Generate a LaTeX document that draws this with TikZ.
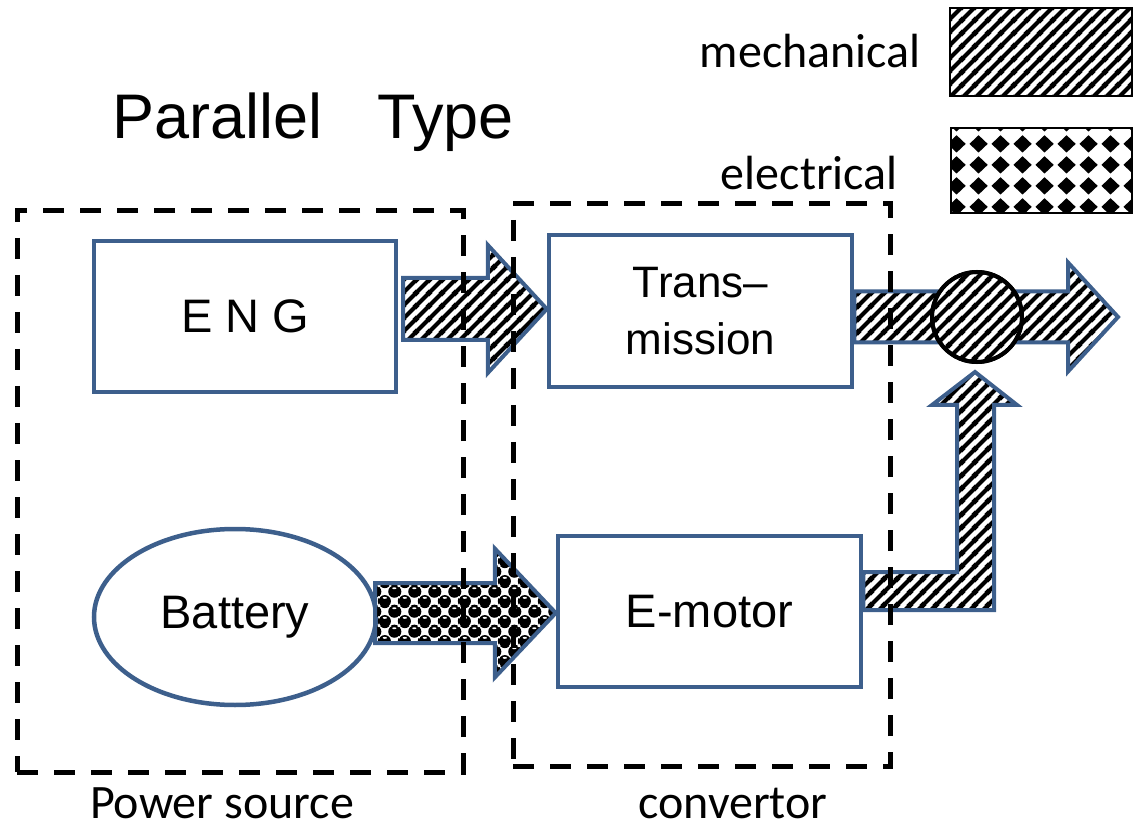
\documentclass[tikz,border=0pt]{standalone}
\usepackage{fontspec}
\setmainfont{Liberation Sans}
\newfontfamily\calib{Carlito}
\usetikzlibrary{patterns,calc,shapes.geometric}

% mechanical: diagonal stripes
\pgfdeclarepatternformonly{mech}{\pgfqpoint{0pt}{0pt}}{\pgfqpoint{13pt}{13pt}}{\pgfqpoint{13pt}{13pt}}{%
  \pgfsetlinewidth{4.3pt}%
  \pgfpathmoveto{\pgfqpoint{-3pt}{-3pt}}\pgfpathlineto{\pgfqpoint{16pt}{16pt}}%
  \pgfpathmoveto{\pgfqpoint{-16pt}{-3pt}}\pgfpathlineto{\pgfqpoint{3pt}{16pt}}%
  \pgfpathmoveto{\pgfqpoint{-3pt}{-16pt}}\pgfpathlineto{\pgfqpoint{16pt}{3pt}}%
  \pgfusepath{stroke}}

% electrical legend: diamonds
\pgfdeclarepatternformonly{diam}{\pgfqpoint{0pt}{0pt}}{\pgfqpoint{22pt}{21pt}}{\pgfqpoint{22pt}{21pt}}{%
  \pgfpathmoveto{\pgfqpoint{11pt}{1.5pt}}%
  \pgfpathlineto{\pgfqpoint{20.5pt}{10.5pt}}%
  \pgfpathlineto{\pgfqpoint{11pt}{19.5pt}}%
  \pgfpathlineto{\pgfqpoint{1.5pt}{10.5pt}}%
  \pgfpathclose\pgfusepath{fill}}

% electrical arrow: balls
\pgfdeclarepatterninherentlycolored{balls}{\pgfqpoint{0pt}{0pt}}{\pgfqpoint{20pt}{20pt}}{\pgfqpoint{20pt}{20pt}}{%
  \pgfsetfillcolor{black}%
  \pgfpathcircle{\pgfqpoint{5pt}{5pt}}{6.4pt}%
  \pgfpathcircle{\pgfqpoint{5pt}{25pt}}{6.4pt}%
  \pgfpathcircle{\pgfqpoint{25pt}{5pt}}{6.4pt}%
  \pgfpathcircle{\pgfqpoint{15pt}{15pt}}{6.4pt}%
  \pgfpathcircle{\pgfqpoint{15pt}{-5pt}}{6.4pt}%
  \pgfpathcircle{\pgfqpoint{-5pt}{15pt}}{6.4pt}%
  \pgfusepath{fill}%
  \pgfsetfillcolor{white}%
  \pgfpathellipse{\pgfqpoint{5pt}{8.5pt}}{\pgfqpoint{2.2pt}{0pt}}{\pgfqpoint{0pt}{1pt}}%
  \pgfpathellipse{\pgfqpoint{15pt}{18.5pt}}{\pgfqpoint{2.2pt}{0pt}}{\pgfqpoint{0pt}{1pt}}%
  \pgfusepath{fill}}

\definecolor{blueline}{HTML}{3D5F8C}

\newcommand\blockarrow[6]{%
  \filldraw[arrowst, pattern=#6] ($(#1)+(0,-#3)$) -- ($(#2)+(-#5,-#3)$) -- ($(#2)+(-#5,-#4)$)
    -- (#2) -- ($(#2)+(-#5,#4)$) -- ($(#2)+(-#5,#3)$) -- ($(#1)+(0,#3)$) -- cycle;}

\begin{document}
\begin{tikzpicture}[x=1pt,y=-1pt,
  box/.style={draw=blueline, line width=4.5pt, inner sep=0pt, align=center,
    font=\fontsize{47}{56}\selectfont},
  arrowst/.style={draw=blueline, line width=4pt, line join=miter},
  dbox/.style={draw=black, line width=5pt, dash pattern=on 21pt off 16pt},
  lab/.style={font=\calib\fontsize{48}{52}\selectfont, inner sep=0pt},
  legbox/.style={draw=black, line width=2.5pt, inner sep=0pt}]
\useasboundingbox (0,0) rectangle (1136,826);

% title
\node[anchor=base west, inner sep=0pt, font=\fontsize{63}{66}\selectfont] (title) at (112,139) {Parallel\hspace{55pt}Type};

% legend
\node[lab, anchor=base east] (mechlab) at (921,68) {mechanical};
\node[legbox, pattern=mech, minimum width=182, minimum height=88] (mechbox) at (1041,52) {};
\node[lab, anchor=base east] (eleclab) at (898,190) {electrical};
\node[legbox, pattern=diam, minimum width=181, minimum height=85] (elecbox) at (1041.5,170.5) {};

% components
\node[box, minimum width=302, minimum height=151] (eng) at (245,316.5) {E N G};
\node[box, minimum width=303, minimum height=152, font=\fontsize{44}{57}\selectfont] (trans) at (700.5,311) {Trans–\\mission};
\node[box, minimum width=303, minimum height=151] (emot) at (709.5,611.5) {E-motor};
\node[draw=blueline, line width=4.5pt, ellipse, inner sep=0pt, minimum width=282, minimum height=176,
  font=\fontsize{47}{56}\selectfont] (bat) at (235,617) {Battery};

% arrows
\coordinate (a1s) at (403,309);
\coordinate (a1e) at (trans.west |- a1s);
\blockarrow{a1s}{a1e}{31}{64}{59}{mech}

\coordinate (a2e) at (1118,317);
\coordinate (a2s) at (trans.east |- a2e);
\blockarrow{a2s}{a2e}{25.5}{54.5}{50}{mech}

\coordinate (a3s) at (375,613);
\coordinate (a3e) at (emot.west |- a3s);
\blockarrow{a3s}{a3e}{30}{64.5}{61}{balls}

\coordinate (a4e) at (975,372);
\filldraw[arrowst, pattern=mech] (emot.east |- 0,572) -- (957,572) -- (957,405) -- (932,405) -- (a4e)
  -- (1017,405) -- (994,405) -- (994,610) -- (emot.east |- 0,610) -- cycle;

\node[circle, draw=black, line width=4pt, fill=white, minimum size=90, inner sep=0pt] (mixw) at (977,317) {};
\node[circle, draw=black, line width=4pt, pattern=mech, minimum size=90, inner sep=0pt] (mix) at (977,317) {};

% dashed groups
\node[dbox, minimum width=446, minimum height=561] (ps) at (240,491.5) {};
\node[dbox, minimum width=377, minimum height=562] (conv) at (701.5,485) {};
\node[lab, anchor=base] (pslab) at (222,818) {Power source};
\node[lab, anchor=base] (convlab) at (733,818) {convertor};
\end{tikzpicture}
\end{document}
